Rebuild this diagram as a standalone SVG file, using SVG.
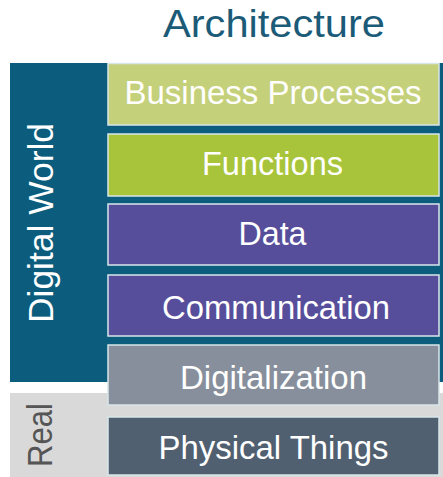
<svg xmlns="http://www.w3.org/2000/svg" width="443" height="477" viewBox="0 0 443 477">
<style>
.box{stroke:#d8e6ea;stroke-width:1.5}
.lbl{font-family:"Liberation Sans",Arial,sans-serif;font-size:32.5px;fill:#ffffff;text-anchor:middle}
.side{font-family:"Liberation Sans",Arial,sans-serif;font-size:35px;text-anchor:middle}
</style>
<rect width="443" height="477" fill="#ffffff"/>
<text x="274" y="36.5" font-family="'Liberation Sans',Arial,sans-serif" font-size="39.5" fill="#1b5b78" text-anchor="middle" textLength="222" lengthAdjust="spacingAndGlyphs">Architecture</text>
<g id="digital-world">
<rect x="10" y="63" width="433" height="319" fill="#0b5c7d"/>
<text class="side" fill="#ffffff" transform="translate(53,223) rotate(-90)" textLength="200" lengthAdjust="spacingAndGlyphs">Digital World</text>
</g>
<g id="real">
<rect x="10" y="393" width="433" height="84" fill="#d9d9d9"/>
<text class="side" fill="#555555" transform="translate(52,435) rotate(-90)" textLength="64" lengthAdjust="spacingAndGlyphs">Real</text>
</g>
<g id="business-processes">
<rect class="box" x="108" y="63.5" width="331" height="61.5" fill="#c5d07a"/>
<text class="lbl" x="273" y="103.5" textLength="297" lengthAdjust="spacingAndGlyphs">Business Processes</text>
</g>
<g id="functions">
<rect class="box" x="108" y="134" width="331" height="62" fill="#a8c43b"/>
<text class="lbl" x="272.5" y="175" textLength="141" lengthAdjust="spacingAndGlyphs">Functions</text>
</g>
<g id="data">
<rect class="box" x="108" y="204" width="331" height="61" fill="#574e9b"/>
<text class="lbl" x="272.5" y="245" textLength="68" lengthAdjust="spacingAndGlyphs">Data</text>
</g>
<g id="communication">
<rect class="box" x="108" y="275" width="331" height="61" fill="#574e9b"/>
<text class="lbl" x="276" y="318.5" textLength="228" lengthAdjust="spacingAndGlyphs">Communication</text>
</g>
<g id="digitalization">
<rect class="box" x="108" y="345" width="331" height="60" fill="#878f9c"/>
<text class="lbl" x="273.5" y="388.5" textLength="187" lengthAdjust="spacingAndGlyphs">Digitalization</text>
</g>
<g id="physical-things">
<rect class="box" x="108" y="417" width="331" height="58" fill="#516070"/>
<text class="lbl" x="273.5" y="458.5" textLength="230" lengthAdjust="spacingAndGlyphs">Physical Things</text>
</g>
<g id="connectors"/>
</svg>
